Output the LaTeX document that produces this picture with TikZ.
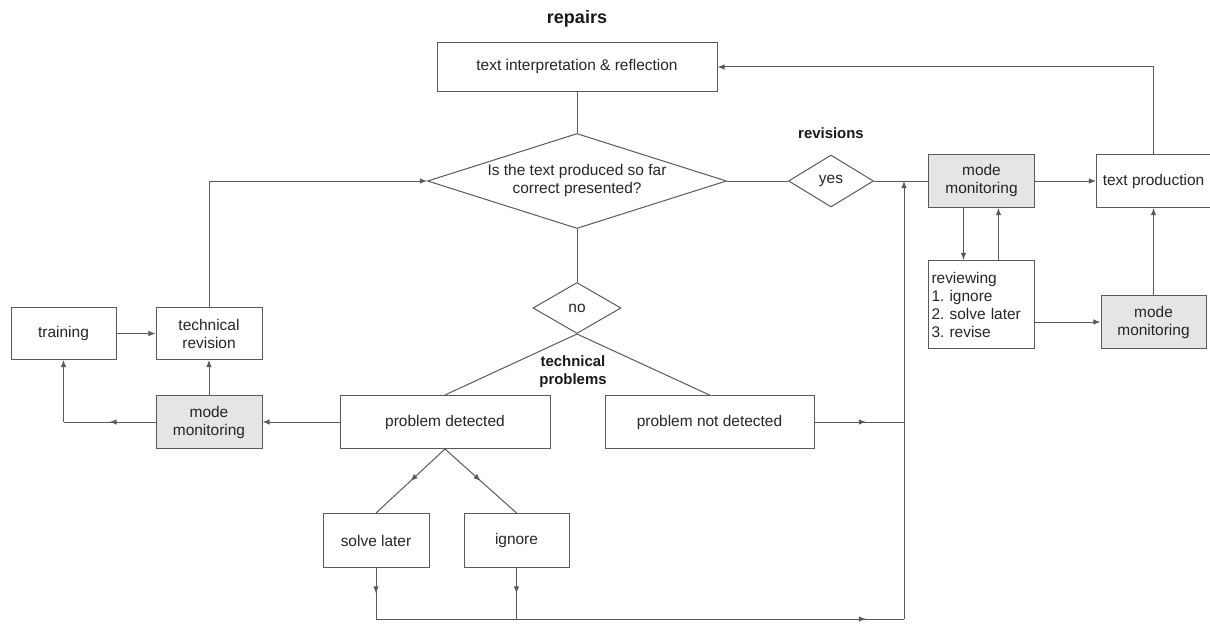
\documentclass[tikz,border=0pt]{standalone}
\usepackage{fontspec}
\setmainfont{Liberation Sans}
\usetikzlibrary{shapes.geometric, arrows.meta, positioning, calc, decorations.markings}
\newlength{\pxu}\setlength{\pxu}{0.75pt}
\frenchspacing

\begin{document}
\begin{tikzpicture}[
    x=\pxu, y=-\pxu,
    >={Latex[length=5.4pt,width=4.2pt]},
    font=\fontsize{11.6}{13.5}\selectfont,
    conn/.style={draw=black!65, line width=0.75pt},
    block/.style={rectangle, conn, minimum width=106\pxu, minimum height=53\pxu, align=center, inner sep=2\pxu, text=black!85},
    monitor/.style={block, fill=black!10},
    decision/.style={diamond, conn, aspect=3, inner sep=0pt, align=center, text=black!85},
    lbl/.style={font=\fontsize{11.2}{13.5}\selectfont\bfseries, inner sep=0pt, align=center, text=black!90},
    arrow/.style={conn, ->},
    midarrow/.style={conn, postaction={decorate}, decoration={markings, mark=at position 0.5 with {\arrow{>}}}},
    lastarrow/.style={conn, postaction={decorate}, decoration={markings, mark=at position -28.5pt with {\arrow{>}}}}
]
\useasboundingbox (0,0) rectangle (1210,635);

% Top part
\node (interp) [block, minimum width=280\pxu, minimum height=49\pxu] at (577,67) {text interpretation \& reflection};
\node (repairs) [lbl, font=\fontsize{13.5}{15}\selectfont\bfseries, above=14\pxu of interp] {repairs};
\node (quest) [decision, minimum width=299\pxu, minimum height=95\pxu, below=41\pxu of interp] {Is the text produced so far\\correct presented?};

% Revisions branch
\node (yes) [decision, aspect=1.6, minimum width=85\pxu, minimum height=52\pxu, right=61\pxu of quest] {yes};
\node (revisions) [lbl, above=16\pxu of yes] {revisions};
\node (monA) [monitor, right=54\pxu of yes] {mode\\monitoring};
\node (prod) [block, minimum width=114\pxu, right=61\pxu of monA] {text production};
\node (review) [block, minimum height=88\pxu, text width=100\pxu, align=left, inner xsep=3\pxu, below=52\pxu of monA] {reviewing\\1. ignore\\2. solve later\\3. revise};
\node (monB) [monitor, minimum width=105\pxu, below=87\pxu of prod] {mode\\monitoring};

% Technical problems branch
\node (no) [decision, aspect=1.7, minimum width=88\pxu, minimum height=51\pxu, below=53\pxu of quest] {no};
\node (techprob) [lbl, below=21\pxu of no, xshift=-4\pxu] {technical\\problems};
\node (pdet) [block, minimum width=210\pxu, below=61\pxu of no, xshift=-132\pxu] {problem detected};
\node (pnot) [block, minimum width=209\pxu, right=54\pxu of pdet] {problem not detected};
\node (monC) [monitor, left=77\pxu of pdet] {mode\\monitoring};
\node (techrev) [block, minimum height=52\pxu, above=35\pxu of monC] {technical\\revision};
\node (train) [block, minimum width=105\pxu, minimum height=52\pxu, left=39\pxu of techrev] {training};
\node (solve) [block, minimum height=54\pxu, below=64\pxu of pdet, xshift=-69\pxu] {solve later};
\node (ign) [block, minimum width=105\pxu, minimum height=54\pxu, right=34\pxu of solve] {ignore};

\coordinate (jn) at ([xshift=30\pxu]yes.east);
\coordinate (bot) at ([yshift=-51\pxu]solve.south);

% Arrows
\draw [conn] (interp) -- (quest);
\draw [conn] (quest) -- (yes);
\draw [conn] (yes) -- (monA);
\draw [arrow] (monA) -- (prod);
\draw [arrow] (prod) |- (interp);
\draw [arrow] ([xshift=-18\pxu]monA.south) -- ([xshift=-18\pxu]review.north);
\draw [arrow] ([xshift=17\pxu]review.north) -- ([xshift=17\pxu]monA.south);
\draw [arrow] (review.east |- monB) -- (monB);
\draw [arrow] (monB) -- (prod);
\draw [conn] (quest) -- (no);
\draw [conn] (no.south) -- (pdet.north);
\draw [conn] (no.south) -- (pnot.north);
\draw [arrow] (pdet) -- (monC);
\draw [arrow] (monC) -- (techrev);
\draw [arrow] (train) -- (techrev);
\draw [arrow] (techrev) |- (quest);
\draw [midarrow] (monC) -- (monC -| train);
\draw [arrow] (monC -| train) -- (train);
\draw [midarrow] (pdet.south) -- (solve.north);
\draw [midarrow] (pdet.south) -- (ign.north);
\draw [lastarrow] (pnot) -- (pnot -| jn);
\draw [midarrow] (solve) -- (bot);
\draw [midarrow] (ign) -- (ign |- bot);
\draw [lastarrow] (bot) -- (bot -| jn);
\draw [arrow] (bot -| jn) -- (jn);

\end{tikzpicture}
\end{document}
